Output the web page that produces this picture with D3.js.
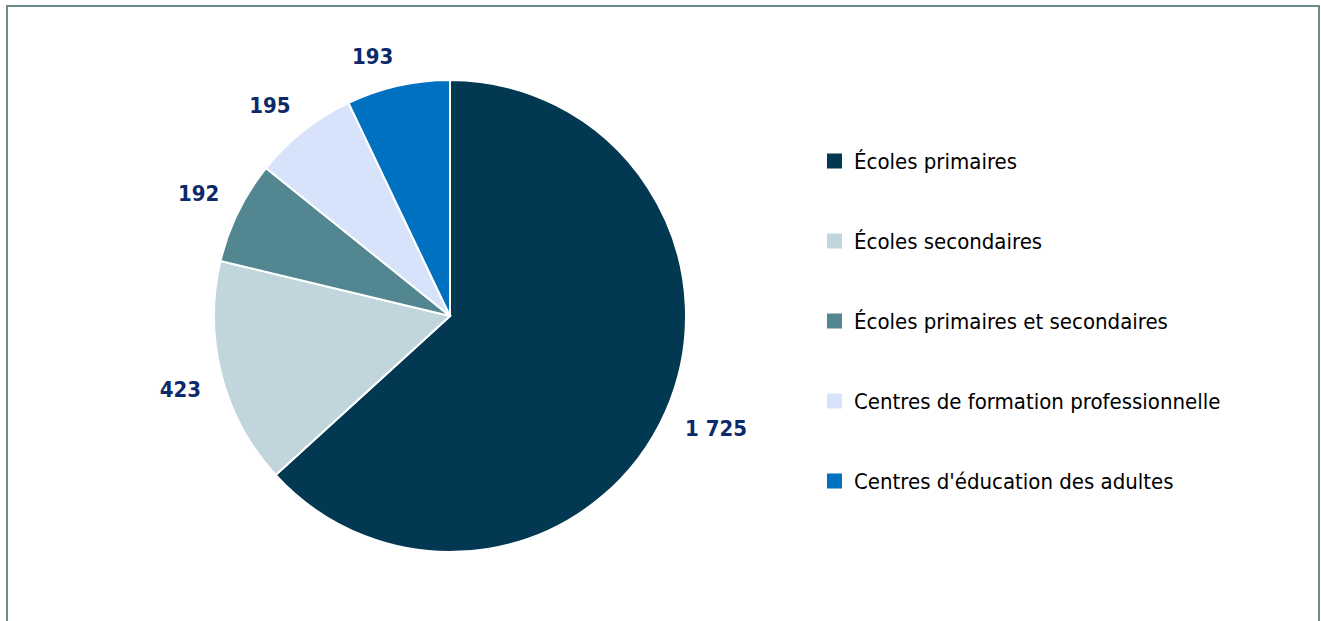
<!DOCTYPE html>
<html>
<head>
<meta charset="utf-8">
<script src="https://cdn.jsdelivr.net/npm/d3@7"></script>
<style>
  body { margin: 0; background: #fff; }
  text { font-family: "DejaVu Sans Condensed", "Liberation Sans Narrow", "Open Sans", sans-serif; }
</style>
</head>
<body>
<script>
  var width = 1321, height = 621;

  // data
  var categories = ["Écoles primaires", "Écoles secondaires", "Écoles primaires et secondaires",
                    "Centres de formation professionnelle", "Centres d'éducation des adultes"];
  var values = [1725, 423, 192, 195, 193];
  var valueLabels = ["1 725", "423", "192", "195", "193"];
  var colours = ["#023851", "#c1d5dc", "#528690", "#d7e3fb", "#0070c0"];

  var svg = d3.select("body").append("svg")
    .attr("width", width)
    .attr("height", height);

  // frame
  svg.append("rect")
    .attr("x", 7).attr("y", 6)
    .attr("width", 1312).attr("height", 640)
    .attr("fill", "none")
    .attr("stroke", "#6a8a8b")
    .attr("stroke-width", 2);

  var cx = 450, cy = 316, radius = 236;

  var pie = d3.pie().sort(null).value(function(d){ return d; });
  var arcs = pie(values);
  var arc = d3.arc().innerRadius(0).outerRadius(radius);

  var g = svg.append("g").attr("transform", "translate(" + cx + "," + cy + ")");

  g.selectAll("path").data(arcs).enter()
    .append("path")
    .attr("d", arc)
    .attr("fill", function(d, i){ return colours[i]; })
    .attr("stroke", "#fff")
    .attr("stroke-width", 2);

  // value labels: anchor point just outside the rim, box hangs off the outer corner
  var labels = g.selectAll("text.val").data(arcs).enter()
    .append("text")
    .attr("class", "val")
    .attr("text-anchor", "middle")
    .attr("dominant-baseline", "central")
    .attr("font-size", 22)
    .attr("font-weight", "bold")
    .attr("fill", "#0c2a6a")
    .text(function(d, i){ return valueLabels[i]; });

  var labelR = radius + 21;
  labels.each(function(d){
    var w = this.getComputedTextLength();
    var a = (d.startAngle + d.endAngle) / 2;
    var sx = Math.sin(a) < 0 ? -1 : 1;
    var sy = Math.cos(a) < 0 ? 1 : -1;
    d3.select(this)
      .attr("x", labelR * Math.sin(a) + sx * w / 2)
      .attr("y", -labelR * Math.cos(a) + sy * 9);
  });

  // legend
  var legendY = d3.scalePoint().domain(categories).range([161, 481]);
  var legend = svg.append("g");
  var item = legend.selectAll("g").data(categories).enter()
    .append("g")
    .attr("transform", function(d){ return "translate(827," + legendY(d) + ")"; });

  item.append("rect")
    .attr("x", 0).attr("y", -7.5)
    .attr("width", 15).attr("height", 15)
    .attr("fill", function(d, i){ return colours[i]; });

  item.append("text")
    .attr("x", 27)
    .attr("y", 0)
    .attr("dominant-baseline", "central")
    .attr("font-size", 22)
    .attr("fill", "#000")
    .text(function(d){ return d; });
</script>
</body>
</html>
